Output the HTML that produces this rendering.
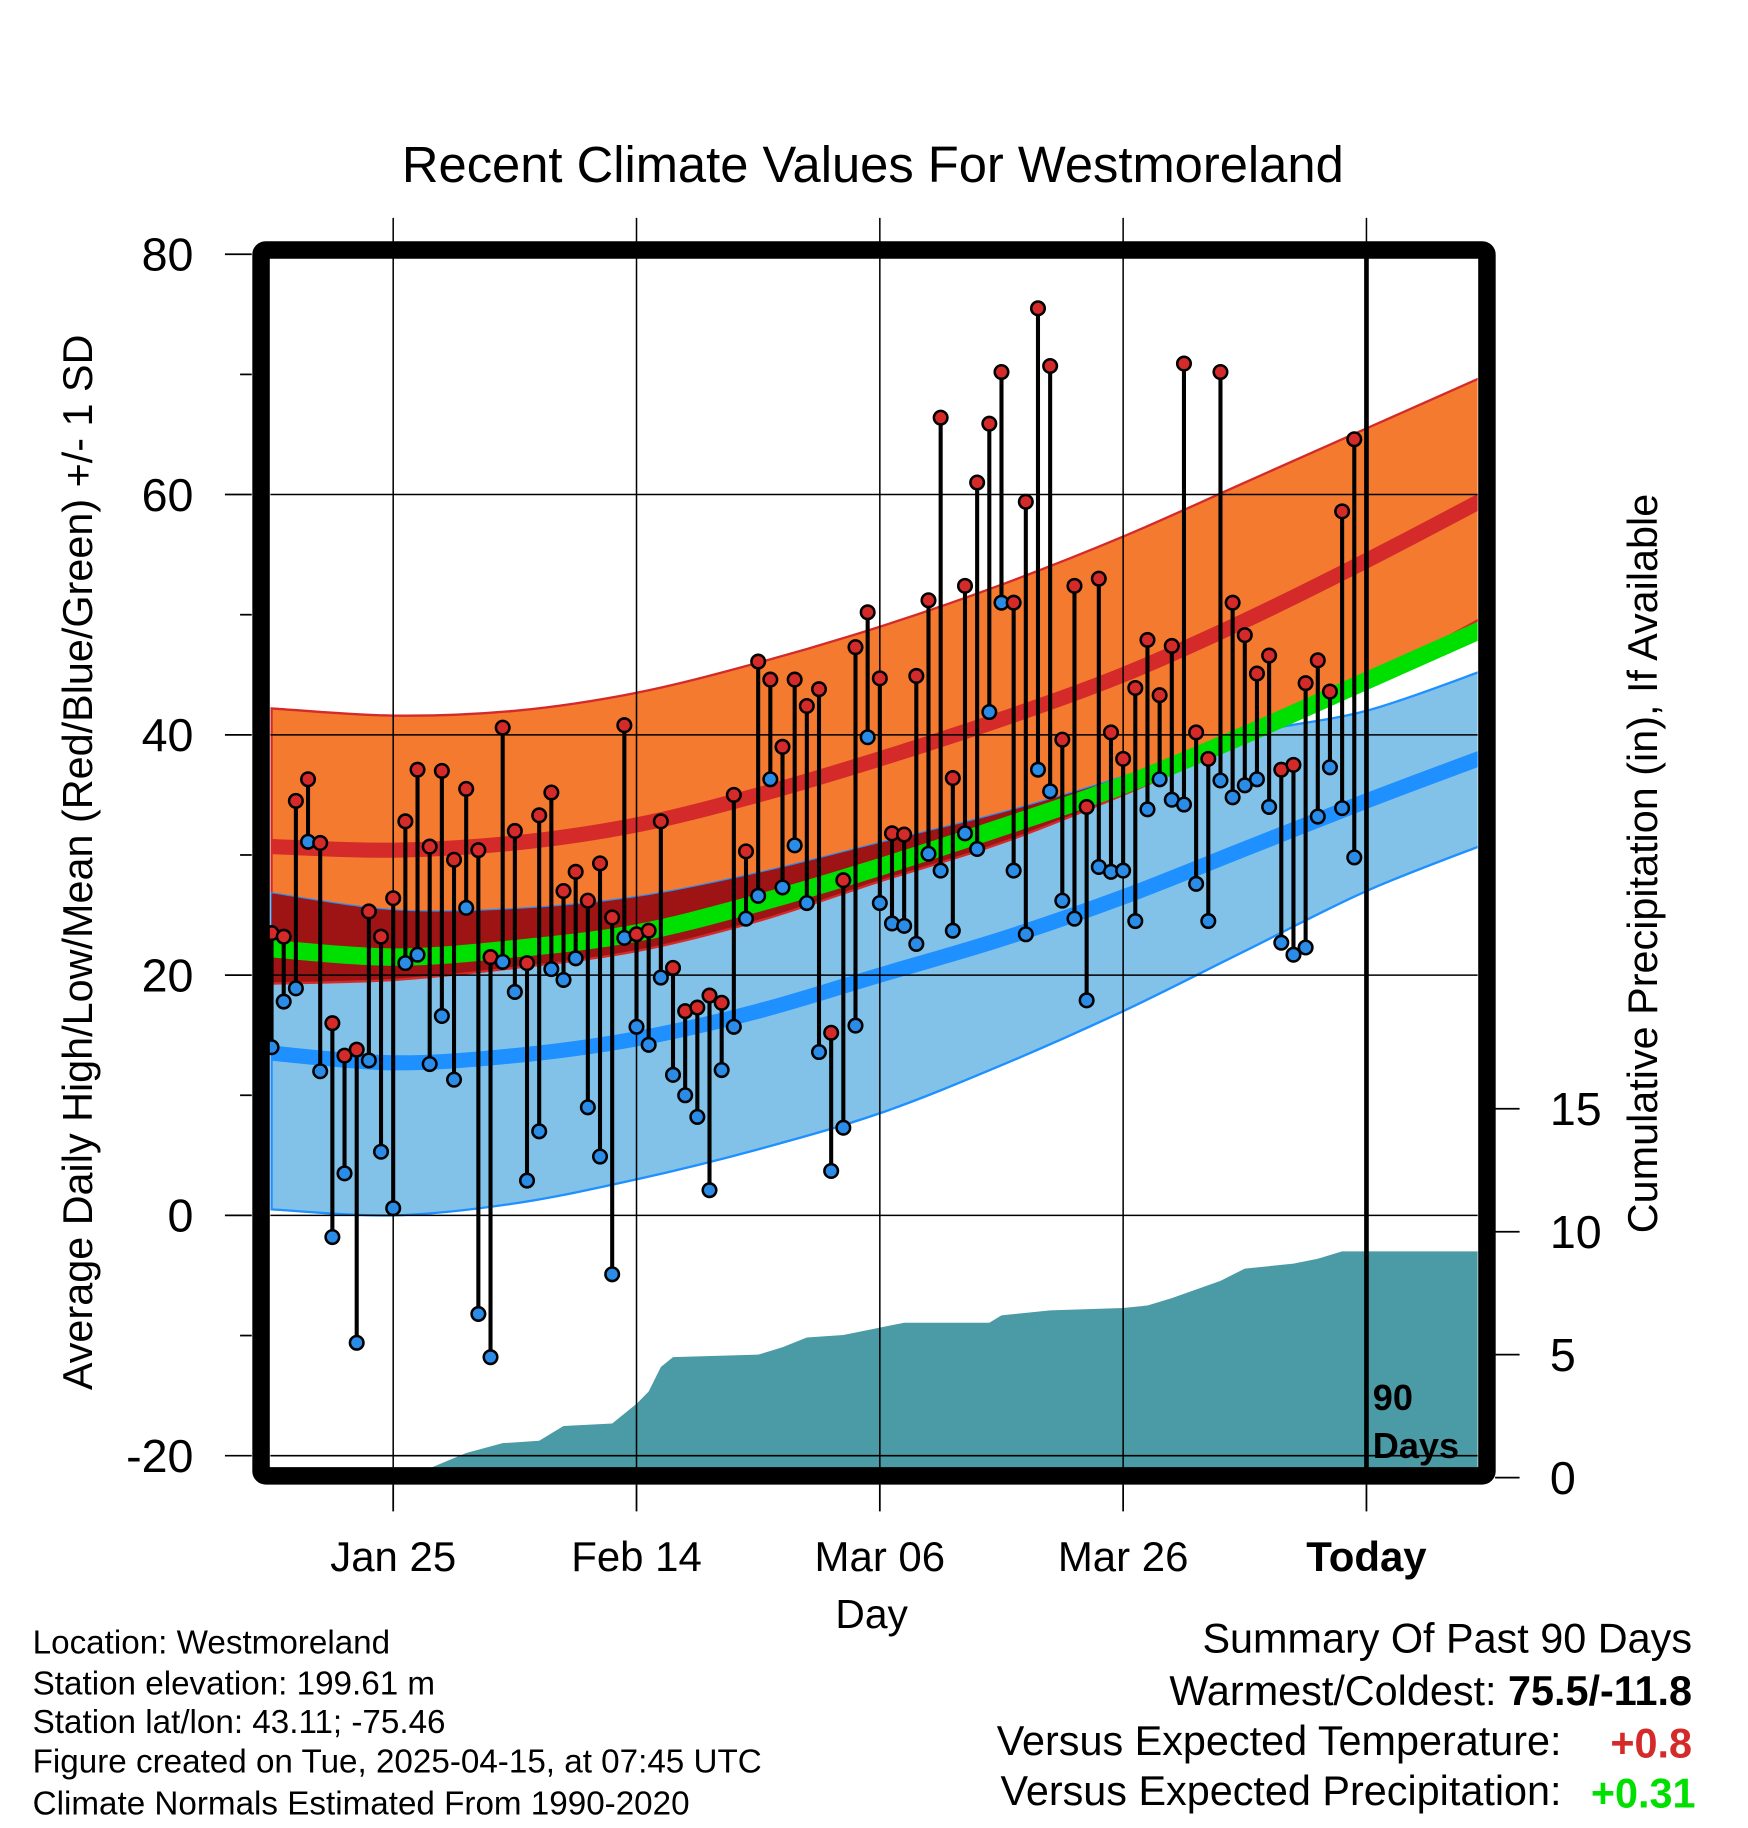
<!DOCTYPE html>
<html><head><meta charset="utf-8"><style>
html,body{margin:0;padding:0;background:#fff;}
svg{display:block;font-family:"Liberation Sans",Arial,sans-serif;}
</style></head><body>
<svg id="chart" width="1748" height="1828" viewBox="0 0 1500 1568.7" xmlns="http://www.w3.org/2000/svg">
<text x="749" y="156" font-size="43.5" text-anchor="middle">Recent Climate Values For Westmoreland</text>
<g id="bands"></g>
<g id="precip"></g>
<g id="grid"></g>
<g id="series"></g>
<g id="axes"></g>
<text transform="translate(79,740) rotate(-90)" font-size="35.5" text-anchor="middle">Average Daily High/Low/Mean (Red/Blue/Green) +/- 1 SD</text>
<text transform="translate(1422,741) rotate(-90)" font-size="35.5" text-anchor="middle">Cumulative Precipitation (in), If Available</text>
<text x="748" y="1397" font-size="35" text-anchor="middle">Day</text>
<text x="1178" y="1210" font-size="31" font-weight="bold">90</text>
<text x="1178" y="1251" font-size="31" font-weight="bold">Days</text>
<g font-size="28.5">
<text x="28" y="1419">Location: Westmoreland</text>
<text x="28" y="1454">Station elevation: 199.61 m</text>
<text x="28" y="1487">Station lat/lon: 43.11; -75.46</text>
<text x="28" y="1521">Figure created on Tue, 2025-04-15, at 07:45 UTC</text>
<text x="28" y="1557">Climate Normals Estimated From 1990-2020</text>
</g>
<g font-size="35.5">
<text x="1452" y="1418" text-anchor="end">Summary Of Past 90 Days</text>
<text x="1452" y="1463" text-anchor="end">Warmest/Coldest: <tspan font-weight="bold">75.5/-11.8</tspan></text>
<text x="1340" y="1506" text-anchor="end">Versus Expected Temperature:</text>
<text x="1452" y="1508" text-anchor="end" font-weight="bold" fill="#d42a2a">+0.8</text>
<text x="1340" y="1549" text-anchor="end">Versus Expected Precipitation:</text>
<text x="1455" y="1551" text-anchor="end" font-weight="bold" fill="#00e000">+0.31</text>
</g>
</svg>
<script>
// normals sampled every 10 days from Jan 15
const normDays = [0,10,20,30,40,50,60,70,80,90,100];
const highUpper = [42.2,41.6,42,43.5,46,49,52.5,56.5,61,65.5,70];
const highMean = [30.7,30.4,31,32.5,35,38,41.3,45,49.5,54.5,59.8];
const highLower = [19.3,19.6,20.6,22,24.5,27.8,31,35,39.5,44.5,50];
const lowUpper = [26.8,25.4,25.5,26.5,28.5,31,33.5,36.5,40,42,45.5];
const lowMean = [13.5,12.7,13.3,14.7,17,20,23,26.5,30.5,34.5,38.3];
const lowLower = [0.5,0,1,3,5.5,8.5,12.5,17,22,27,31];
const meanTemp = [22.2,21.5,22.2,23.5,26,29,32.3,35.8,40,44.5,49];
// daily observations (days since Jan 15)
const highs = [23.5,23.2,34.5,36.3,31,16,13.3,13.8,25.3,23.2,26.4,32.8,37.1,30.7,37,29.6,35.5,30.4,21.5,40.6,32,21,33.3,35.2,27,28.6,26.2,29.3,24.8,40.8,23.4,23.7,32.8,20.6,17,17.3,18.3,17.7,35,30.3,46.1,44.6,39,44.6,42.4,43.8,15.2,27.9,47.3,50.2,44.7,31.8,31.7,44.9,51.2,66.4,36.4,52.4,61,65.9,70.2,51,59.4,75.5,70.7,39.6,52.4,34,53,40.2,38,43.9,47.9,43.3,47.4,70.9,40.2,38,70.2,51,48.3,45.1,46.6,37.1,37.5,44.3,46.2,43.6,58.6,64.6];
const lows = [14,17.8,18.9,31.1,12,-1.8,3.5,-10.6,12.9,5.3,0.6,21,21.7,12.6,16.6,11.3,25.6,-8.2,-11.8,21.1,18.6,2.9,7,20.5,19.6,21.4,9,4.9,-4.9,23.1,15.7,14.2,19.8,11.7,10,8.2,2.1,12.1,15.7,24.7,26.6,36.3,27.3,30.8,26,13.6,3.7,7.3,15.8,39.8,26,24.3,24.1,22.6,30.1,28.7,23.7,31.8,30.5,41.9,51,28.7,23.4,37.1,35.3,26.2,24.7,17.9,29,28.6,28.7,24.5,33.8,36.3,34.6,34.2,27.6,24.5,36.2,34.8,35.8,36.3,34,22.7,21.7,22.3,33.2,37.3,33.9,29.8];
// cumulative precipitation
const precipDays = [0,13,16,19,22,24,28,30,31,32,33,40,42,44,47,50,52,59,60,64,70,72,74,78,80,84,86,88,99.2];
const precipVals = [0,0.1,1.0,1.4,1.5,2.1,2.2,3.0,3.5,4.5,4.9,5.0,5.3,5.7,5.8,6.1,6.3,6.3,6.6,6.8,6.9,7.0,7.3,8.0,8.5,8.7,8.9,9.2,9.2];
const yTicks = [80,60,40,20,0,-20];
const y2Ticks = [0,5,10,15];
const xTickDays = [10,30,50,70,90];
const xTickLabels = ["Jan 25","Feb 14","Mar 06","Mar 26","Today"];

const NS="http://www.w3.org/2000/svg";
const L=232,R=1268,T=222,B=1260;
const X=d=>233+10.44*d;
const Y=v=>1043-10.31*v;
const Y2=p=>1268-21.1*p;
function mk(tag,attrs,parent){const e=document.createElementNS(NS,tag);for(const k in attrs)e.setAttribute(k,attrs[k]);parent.appendChild(e);return e;}
function smooth(days,vals){
  const pts=days.map((d,i)=>[X(d),Y(vals[i])]);
  let s="M"+pts[0][0]+","+pts[0][1];
  for(let i=0;i<pts.length-1;i++){
    const p0=pts[Math.max(0,i-1)],p1=pts[i],p2=pts[i+1],p3=pts[Math.min(pts.length-1,i+2)];
    const c1=[p1[0]+(p2[0]-p0[0])/6,p1[1]+(p2[1]-p0[1])/6];
    const c2=[p2[0]-(p3[0]-p1[0])/6,p2[1]-(p3[1]-p1[1])/6];
    s+=` C${c1[0]},${c1[1]} ${c2[0]},${c2[1]} ${p2[0]},${p2[1]}`;
  }
  return s;
}
function revPath(days,vals){const d=days.slice().reverse(),v=vals.slice().reverse();return smooth(d,v).replace(/^M/,"L");}
const bands=document.getElementById('bands');
const clip=mk('clipPath',{id:'pc'},mk('defs',{},bands));
mk('rect',{x:L,y:T,width:R-L,height:B-T},clip);
const bg=mk('g',{'clip-path':'url(#pc)'},bands);
let e;
e=mk('path',{d:smooth(normDays,highUpper)+revPath(normDays,highLower)+"Z",fill:'#f47a30',stroke:'#d42a2a','stroke-width':2},bg);

e=mk('path',{d:smooth(normDays,lowUpper)+revPath(normDays,lowLower)+"Z",fill:'#82c2e8',stroke:'#1e90ff','stroke-width':2},bg);

const ovTop=lowUpper.map((v,i)=>Math.max(v,highLower[i]));
e=mk('path',{d:smooth(normDays,ovTop)+revPath(normDays,highLower)+"Z",fill:'#9e1414'},bg);

e=mk('path',{d:smooth(normDays,highLower),fill:'none',stroke:'#d42a2a','stroke-width':2},bg);

e=mk('path',{d:smooth(normDays,meanTemp),fill:'none',stroke:'#00e000','stroke-width':15},bg);

e=mk('path',{d:smooth(normDays,highMean),fill:'none',stroke:'#d42a2a','stroke-width':13},bg);

e=mk('path',{d:smooth(normDays,lowMean),fill:'none',stroke:'#1e90ff','stroke-width':13},bg);


const pg=document.getElementById('precip');
let pd="M"+X(0)+","+B;
precipDays.forEach((d,i)=>{pd+=" L"+X(d)+","+Math.min(B,Y2(precipVals[i]));});
pd+=" L"+R+","+Y2(precipVals[precipVals.length-1])+" L"+R+","+B+"Z";
e=mk('path',{d:pd,fill:'#4a9ba5'},pg);


const grid=document.getElementById('grid');
yTicks.forEach(v=>{e=mk('line',{x1:L,x2:R,y1:Y(v),y2:Y(v),stroke:'#000','stroke-width':1.3},grid);
});
xTickDays.forEach(d=>{e=mk('line',{x1:X(d),x2:X(d),y1:187,y2:B,stroke:'#000','stroke-width':1.3},grid);
});
e=mk('line',{x1:X(90),x2:X(90),y1:210,y2:B,stroke:'#000','stroke-width':4},grid);


const sg=document.getElementById('series');
highs.forEach((h,i)=>{e=mk('line',{x1:X(i),x2:X(i),y1:Y(h),y2:Y(lows[i]),stroke:'#000','stroke-width':3.5},sg);
});
highs.forEach((h,i)=>{e=mk('circle',{cx:X(i),cy:Y(h),r:5.8,fill:'#d42a2a',stroke:'#000','stroke-width':2.2},sg);

e=mk('circle',{cx:X(i),cy:Y(lows[i]),r:5.8,fill:'#2b8ce8',stroke:'#000','stroke-width':2.2},sg);
});

const ax=document.getElementById('axes');
e=mk('rect',{x:224,y:214.5,width:1052,height:1052,fill:'none',stroke:'#000','stroke-width':15,rx:4},ax);

yTicks.forEach(v=>{mk('line',{x1:193,x2:216,y1:Y(v),y2:Y(v),stroke:'#000','stroke-width':1.5},ax);
e=mk('text',{x:166,y:Y(v)+14,'font-size':40,'text-anchor':'end'},ax);e.textContent=v;
});
[70,50,30,10,-10].forEach(v=>mk('line',{x1:206,x2:216,y1:Y(v),y2:Y(v),stroke:'#000','stroke-width':1.5},ax));
y2Ticks.forEach(p=>{mk('line',{x1:1283,x2:1304,y1:Y2(p),y2:Y2(p),stroke:'#000','stroke-width':1.5},ax);
e=mk('text',{x:1330,y:Y2(p)+14,'font-size':40},ax);e.textContent=p;
});
xTickDays.forEach((d,i)=>{mk('line',{x1:X(d),x2:X(d),y1:1274,y2:1297,stroke:'#000','stroke-width':1.5},ax);
e=mk('text',{x:X(d),y:1348,'font-size':36,'text-anchor':'middle','font-weight':i===4?'bold':'normal'},ax);e.textContent=xTickLabels[i];
});
</script>
</body></html>
